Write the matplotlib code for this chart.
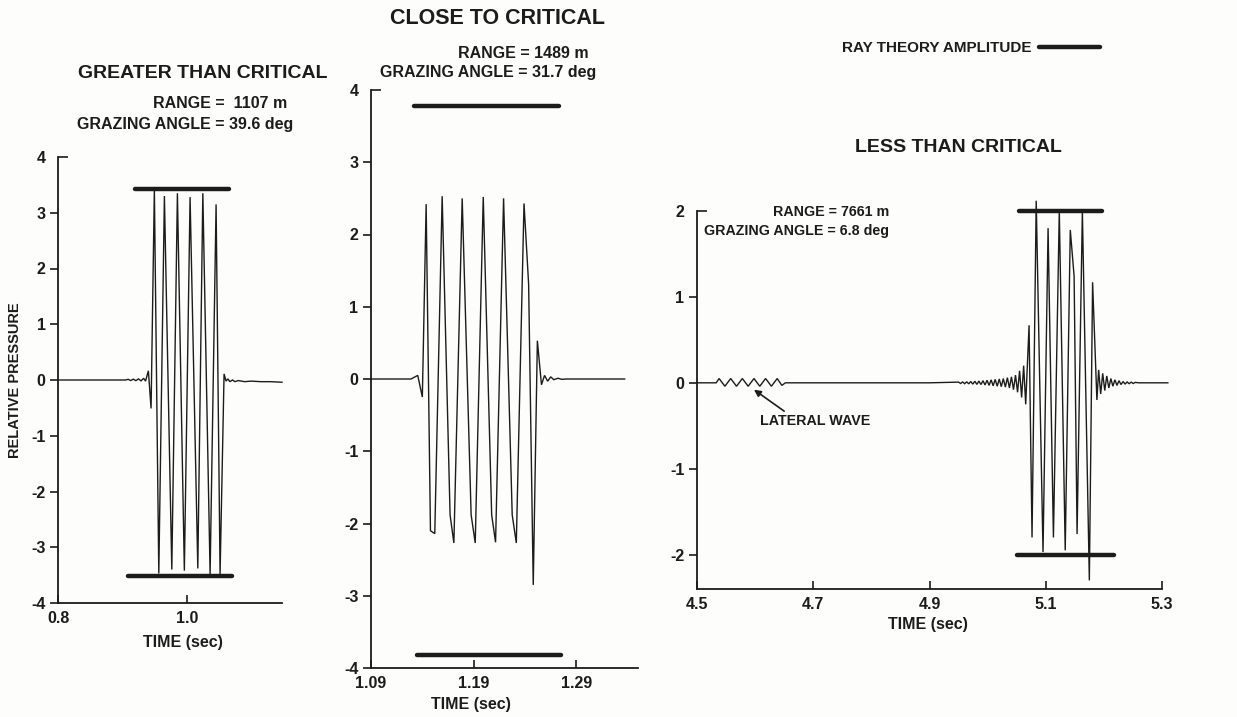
import matplotlib
matplotlib.use("Agg")
import matplotlib.pyplot as plt
from matplotlib.lines import Line2D

# ---------------- data ----------------
# Panel 1: greater than critical (range 1107 m, grazing 39.6 deg)
t_gt = [0.800, 0.905, 0.909, 0.913, 0.917, 0.921, 0.925, 0.929, 0.933, 0.936,
        0.9404, 0.9446, 0.9497, 0.9566, 0.9653, 0.9768, 0.9855, 0.9963, 1.0052,
        1.0172, 1.0250, 1.0363, 1.0456, 1.0518, 1.0580, 1.0610, 1.0640, 1.0670,
        1.0710, 1.0750, 1.0800, 1.0900, 1.1000, 1.1150, 1.1300, 1.1480]
p_gt = [0.0, 0.0, 0.012, -0.010, 0.015, -0.012, 0.020, -0.015, 0.030, -0.020,
        0.165, -0.51, 3.42, -3.47, 3.30, -3.40, 3.35, -3.42, 3.28,
        -3.38, 3.35, -3.48, 3.15, -3.48, 0.11, -0.02, 0.02, -0.03,
        0.0, -0.03, -0.01, -0.03, -0.02, -0.03, -0.03, -0.04]
ray_gt = [3.42, -3.51]
ray_gt_start = [0.919, 0.908]
ray_gt_end = [1.066, 1.071]

# Panel 2: close to critical (range 1489 m, grazing 31.7 deg)
t_cc = [1.090, 1.129, 1.1355, 1.1400, 1.1437, 1.1479, 1.1521, 1.1593, 1.1670,
        1.1707, 1.1788, 1.1875, 1.1915, 1.1993, 1.2075, 1.2113, 1.2191, 1.2275,
        1.2315, 1.2390, 1.2435, 1.2480, 1.2520, 1.2560, 1.2590, 1.2620, 1.2650,
        1.2680, 1.2720, 1.2760, 1.2800, 1.3370]
p_cc = [0.0, 0.0, 0.05, -0.25, 2.42, -2.10, -2.14, 2.53, -1.88,
        -2.27, 2.50, -1.88, -2.27, 2.52, -1.88, -2.26, 2.50, -1.88,
        -2.27, 2.43, 1.31, -2.85, 0.53, -0.08, 0.05, -0.03, 0.03,
        -0.01, 0.01, -0.005, 0.0, 0.0]
ray_cc = [3.78, -3.82]
ray_cc_start = [1.1316, 1.1345]
ray_cc_end = [1.2730, 1.2747]

# Panel 3: less than critical (range 7661 m, grazing 6.8 deg)
t_lc = [4.500, 4.533, 4.538, 4.548, 4.558, 4.568, 4.578, 4.588, 4.598, 4.608,
        4.618, 4.628, 4.638, 4.646, 4.652, 4.800, 4.900,
        4.950, 4.9535, 4.957, 4.9605, 4.964, 4.9675, 4.971, 4.9745, 4.978,
        4.9815, 4.985, 4.9885, 4.992, 4.9955, 4.999, 5.0025, 5.006, 5.0095,
        5.013, 5.0165, 5.020, 5.0235, 5.027, 5.0305, 5.034, 5.0375, 5.041,
        5.0445, 5.048, 5.0515, 5.055, 5.0585, 5.062, 5.0655,
        5.0713, 5.0764, 5.0836, 5.0953, 5.1040, 5.1132, 5.1233, 5.1335,
        5.1422, 5.1488, 5.1539, 5.1630, 5.1750, 5.1806, 5.1880,
        5.191, 5.1945, 5.198, 5.2015, 5.205, 5.2085, 5.212, 5.2155, 5.219,
        5.2225, 5.226, 5.2295, 5.233, 5.2365, 5.240, 5.2435, 5.247, 5.2505,
        5.254, 5.260, 5.310]
p_lc = [0.0, 0.0, 0.05, -0.04, 0.05, -0.04, 0.05, -0.04, 0.05, -0.04,
        0.05, -0.04, 0.05, -0.03, 0.0, 0.0, 0.0,
        0.008, -0.008, 0.010, -0.010, 0.012, -0.012, 0.015, -0.015, 0.018,
        -0.018, 0.020, -0.020, 0.025, -0.025, 0.030, -0.030, 0.035, -0.035,
        0.040, -0.040, 0.045, -0.045, 0.050, -0.050, 0.060, -0.060, 0.070,
        -0.080, 0.090, -0.110, 0.140, -0.170, 0.200, -0.250,
        0.67, -1.80, 2.12, -1.97, 1.80, -1.80, 2.00, -1.95,
        1.78, 1.24, -1.76, 2.00, -2.30, 1.17, -0.20,
        0.15, -0.13, 0.11, -0.09, 0.08, -0.06, 0.05, -0.04, 0.035,
        -0.03, 0.025, -0.02, 0.015, -0.015, 0.01, -0.01, 0.008, -0.008,
        0.005, 0.0, 0.0]
ray_lc = [2.00, -2.01]
ray_lc_start = [5.0545, 5.0505]
ray_lc_end = [5.1960, 5.2180]

xticks_gt, xlabels_gt = [0.8, 1.0], ["0.8", "1.0"]
xticks_cc, xlabels_cc = [1.09, 1.19, 1.29], ["1.09", "1.19", "1.29"]
xticks_lc, xlabels_lc = [4.5, 4.7, 4.9, 5.1, 5.3], ["4.5", "4.7", "4.9", "5.1", "5.3"]
yticks_gt = [-4, -3, -2, -1, 0, 1, 2, 3, 4]
yticks_cc = [-4, -3, -2, -1, 0, 1, 2, 3, 4]
yticks_lc = [-2, -1, 0, 1, 2]

# ---------------- style ----------------
INK = "#1c1c1c"
BG = "#fdfdfb"
plt.rcParams["font.family"] = ["Liberation Sans", "DejaVu Sans"]
plt.rcParams["font.weight"] = "bold"
SMALL = 11.5
NOTE3 = 10.3
BIG = 14

W, H = 1237, 717
fig = plt.figure(figsize=(W / 100, H / 100), dpi=100, facecolor=BG)


def fx(px):
    return px / W


def fy(py):
    return 1 - py / H


def make_axes(rect, xlim, ylim, xticks, xlabels, yticks):
    ax = fig.add_axes(rect)
    ax.set_facecolor("none")
    ax.set_xlim(*xlim)
    ax.set_ylim(*ylim)
    for s in ("top", "right"):
        ax.spines[s].set_visible(False)
    for s in ("left", "bottom"):
        ax.spines[s].set_color(INK)
        ax.spines[s].set_linewidth(1.3)
    ax.set_xticks(xticks)
    ax.set_xticklabels(xlabels)
    ax.set_yticks(yticks)
    ax.set_yticklabels([str(v) for v in yticks])
    ax.tick_params(axis="x", direction="in", length=6, width=1.2, pad=6,
                   colors=INK, labelsize=SMALL)
    ax.tick_params(axis="y", direction="out", length=6, width=1.2, pad=3,
                   colors=INK, labelsize=SMALL)
    # the top y tick turns inward, like a corner
    ax.yaxis.remove_overlapping_locs = False
    ax.yaxis.get_major_ticks()[-1].tick1line.set_visible(False)
    ax.set_yticks([yticks[-1]], minor=True)
    ax.tick_params(axis="y", which="minor", direction="in", length=7,
                   width=1.2, colors=INK)
    for lab in ax.get_xticklabels() + ax.get_yticklabels():
        lab.set_fontweight("bold")
    return ax


def draw_panel(ax, t, p, ray, r0, r1):
    ax.plot(t, p, color=INK, lw=1.0, clip_on=False, solid_joinstyle="miter")
    ax.hlines(ray, r0, r1, color=INK, lw=3.2, capstyle="round", clip_on=False)


ax1 = make_axes([fx(58), fy(603), fx(282 - 58), (603 - 157) / H],
                (0.8, 1.148), (-4, 4), xticks_gt, xlabels_gt, yticks_gt)
draw_panel(ax1, t_gt, p_gt, ray_gt, ray_gt_start, ray_gt_end)

ax2 = make_axes([fx(371), fy(668), fx(638 - 371), (668 - 90) / H],
                (1.09, 1.35), (-4, 4), xticks_cc, xlabels_cc, yticks_cc)
draw_panel(ax2, t_cc, p_cc, ray_cc, ray_cc_start, ray_cc_end)

ax3 = make_axes([fx(697), fy(589), fx(1162 - 697), (589 - 211) / H],
                (4.5, 5.3), (-2.4, 2.0), xticks_lc, xlabels_lc, yticks_lc)
draw_panel(ax3, t_lc, p_lc, ray_lc, ray_lc_start, ray_lc_end)

# lateral wave callout
ax3.annotate("", xy=(4.598, -0.08), xytext=(4.650, -0.33),
             arrowprops=dict(arrowstyle="-|>", color=INK, lw=1.2,
                             mutation_scale=10, shrinkA=0, shrinkB=0))
ax3.text(4.703, -0.45, "LATERAL WAVE", ha="center", va="center",
         fontsize=NOTE3, fontweight="bold", color=INK)

# titles and annotations
txt = dict(color=INK, fontweight="bold", ha="center", va="center")
fig.text(fx(203), fy(73), "GREATER THAN CRITICAL", fontsize=BIG, **txt)
fig.text(fx(220), fy(103), "RANGE =  1107 m", fontsize=SMALL, **txt)
fig.text(fx(185), fy(124), "GRAZING ANGLE = 39.6 deg", fontsize=SMALL, **txt)

fig.text(fx(498), fy(18), "CLOSE TO CRITICAL", fontsize=BIG + 1.5, **txt)
fig.text(fx(523), fy(53), "RANGE = 1489 m", fontsize=SMALL, **txt)
fig.text(fx(488), fy(73), "GRAZING ANGLE = 31.7 deg", fontsize=SMALL, **txt)

fig.text(fx(958), fy(148), "LESS THAN CRITICAL", fontsize=BIG, **txt)
fig.text(fx(831), fy(212), "RANGE = 7661 m", fontsize=NOTE3, **txt)
fig.text(fx(796), fy(231), "GRAZING ANGLE = 6.8 deg", fontsize=NOTE3, **txt)

fig.text(fx(183), fy(642), "TIME (sec)", fontsize=SMALL, **txt)
fig.text(fx(471), fy(705), "TIME (sec)", fontsize=SMALL, **txt)
fig.text(fx(928), fy(625), "TIME (sec)", fontsize=SMALL, **txt)
fig.text(fx(15), fy(380), "RELATIVE PRESSURE", fontsize=SMALL - 1,
         rotation=90, **txt)

# legend for the ray theory amplitude bars
key = Line2D([], [], color=INK, lw=3.2, solid_capstyle="round")
fig.legend(handles=[key], labels=["RAY THEORY AMPLITUDE"], markerfirst=False,
           frameon=False, loc="center right", bbox_to_anchor=(fx(1100), fy(48)),
           handlelength=4.0, handletextpad=0.5, borderpad=0, borderaxespad=0,
           prop=dict(size=SMALL - 0.5, weight="bold"), labelcolor=INK)

fig.savefig("out.png", dpi=100, facecolor=BG)
